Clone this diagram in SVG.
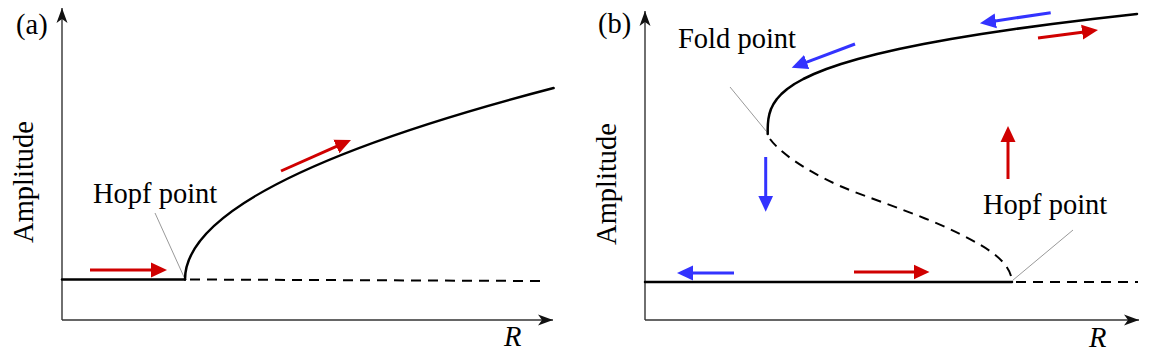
<svg xmlns="http://www.w3.org/2000/svg" width="1159" height="360" viewBox="0 0 1159 360">
<defs>
<style>
.axis{stroke:#333;stroke-width:1.4;fill:none}
.curve{stroke:#000;stroke-width:2.5;fill:none;stroke-linejoin:round;stroke-linecap:round}
.dash{stroke:#000;stroke-width:2;fill:none;stroke-dasharray:10 7}
.lead{stroke:#999;stroke-width:1;fill:none}
.red{stroke:#d00000;stroke-width:3;fill:none;marker-end:url(#hr)}
.blue{stroke:#3333ff;stroke-width:3;fill:none;marker-end:url(#hb)}
text{font-family:"Liberation Serif","Times New Roman",serif;font-size:28.5px;fill:#000}
.it{font-style:italic}
</style>
<marker id="ax" markerUnits="userSpaceOnUse" markerWidth="20" markerHeight="14" refX="15" refY="7" orient="auto" viewBox="0 0 20 14">
<path d="M15,7 L0,1.5 L4,7 L0,12.5 Z" fill="#111"/>
</marker>
<marker id="hr" markerUnits="userSpaceOnUse" markerWidth="18" markerHeight="16" refX="2" refY="8" orient="auto" viewBox="0 0 18 16">
<path d="M0,0.5 L16,8 L0,15.5 Z" fill="#d00000"/>
</marker>
<marker id="hb" markerUnits="userSpaceOnUse" markerWidth="18" markerHeight="16" refX="2" refY="8" orient="auto" viewBox="0 0 18 16">
<path d="M0,0.5 L16,8 L0,15.5 Z" fill="#3333ff"/>
</marker>
</defs>
<rect width="1159" height="360" fill="#fff"/>

<g id="panel-a-axes">
<line class="axis" x1="62" y1="320" x2="62" y2="8" marker-end="url(#ax)"/>
<line class="axis" x1="62" y1="320" x2="553" y2="320" marker-end="url(#ax)"/>
<text x="16" y="34">(a)</text>
<text transform="translate(33,182) rotate(-90)" text-anchor="middle">Amplitude</text>
<text class="it" x="504" y="346">R</text>
</g>

<g id="panel-b-axes">
<line class="axis" x1="645" y1="320" x2="645" y2="11" marker-end="url(#ax)"/>
<line class="axis" x1="645" y1="320" x2="1139" y2="320" marker-end="url(#ax)"/>
<text x="598" y="33">(b)</text>
<text transform="translate(616,184) rotate(-90)" text-anchor="middle">Amplitude</text>
<text class="it" x="1089" y="347">R</text>
</g>

<g id="hopf-a">
<text x="93" y="203">Hopf point</text>
<line class="lead" x1="155" y1="213" x2="184" y2="277"/>
</g>

<g id="fold-b">
<text x="678" y="48">Fold point</text>
<line class="lead" x1="730" y1="87" x2="766.5" y2="131.5"/>
</g>

<g id="hopf-b">
<text x="983" y="214">Hopf point</text>
<line class="lead" x1="1073" y1="230" x2="1012.5" y2="280.5"/>
</g>

<g id="connectors">
<!-- panel a branches -->
<path class="curve" d="M62,279.5 L185,279.5"/>
<path class="dash" d="M190,279.5 L541,281"/>
<path class="curve" d="M185,279.5 Q185,184 553.6,88"/>
<!-- panel b branches -->
<path class="curve" d="M645,282 L1012,282"/>
<path class="dash" d="M1016,282 L1138,282"/>
<path class="curve" d="M767.7,134 L767.7,129 L767.9,124 L768.4,119 L769.4,114 L771,109 L773.5,104 L776.9,99 L781.4,94 L787.2,89 L794.4,84 L803.3,79 L813.9,74 L826.4,69 L841,64 L857.9,59 L877.1,54 L898.9,49 L923.5,44 L950.9,39 L981.4,34 L1015.1,29 L1052.1,24 L1092.7,19 L1137,14"/>
<path class="dash" d="M770,139 C778,150 800,168 840,186 C870,199 920,214 960,234 C990,249 1010,262 1012,281"/>
<!-- red arrows -->
<line class="red" x1="90" y1="270" x2="153" y2="270"/>
<line class="red" x1="281" y1="171" x2="338.2" y2="145.7"/>
<line class="red" x1="854" y1="272" x2="915.5" y2="272"/>
<line class="red" x1="1008" y1="179" x2="1008" y2="140"/>
<line class="red" x1="1038" y1="38" x2="1084.1" y2="31.9"/>
<!-- blue arrows -->
<line class="blue" x1="1050.7" y1="12.7" x2="993.8" y2="21.2"/>
<line class="blue" x1="855" y1="44" x2="804.8" y2="62.8"/>
<line class="blue" x1="765.7" y1="157" x2="765.7" y2="197.7"/>
<line class="blue" x1="734" y1="273" x2="691" y2="273"/>
</g>
</svg>
